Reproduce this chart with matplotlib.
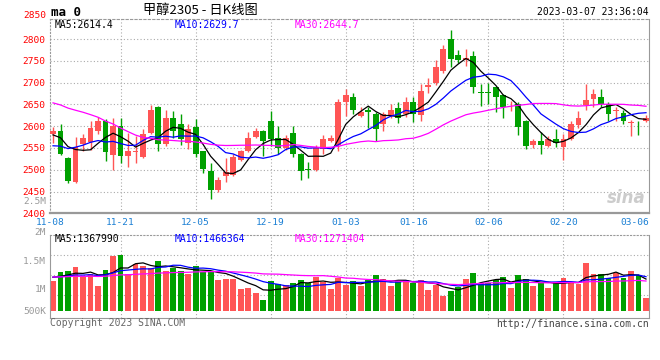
import numpy as np
import pandas as pd
import matplotlib
matplotlib.use('Agg')
import matplotlib.pyplot as plt
import matplotlib.transforms as mtransforms

W, H = 660, 360
MONO = 'DejaVu Sans Mono'
RED = '#ff5555'
GREEN = '#00a000'
GRID = '#aaaaaa'

# date ticks (index of the trading day)
date_idx = [0, 9, 19, 29, 39, 48, 58, 68, 78]
date_lbl = ['11-08', '11-21', '12-05', '12-19', '01-03', '01-16', '02-06', '02-20', '03-06']

opens = [2582, 2589, 2527, 2471, 2559, 2563, 2589, 2613, 2534, 2600,
         2532, 2541, 2530, 2584, 2645, 2560, 2618, 2606, 2561, 2597,
         2542, 2498, 2454, 2485, 2489, 2523, 2543, 2576, 2590, 2611,
         2572, 2549, 2585, 2537, 2501, 2500, 2547, 2567, 2556, 2656,
         2666, 2624, 2637, 2627, 2606, 2623, 2642, 2627, 2656, 2625,
         2689, 2698, 2727, 2801, 2764, 2751, 2760, 2678, 2678, 2689,
         2672, 2650, 2651, 2612, 2556, 2567, 2555, 2570, 2552, 2571,
         2602, 2649, 2662, 2667, 2652, 2635, 2630, 2608, 2606, 2611]
highs = [2597, 2604, 2529, 2574, 2583, 2612, 2622, 2616, 2618, 2618,
         2585, 2577, 2594, 2648, 2646, 2638, 2634, 2627, 2606, 2617,
         2544, 2516, 2484, 2526, 2535, 2546, 2587, 2595, 2591, 2634,
         2600, 2580, 2600, 2538, 2518, 2556, 2579, 2580, 2662, 2685,
         2676, 2643, 2643, 2632, 2632, 2651, 2656, 2666, 2666, 2696,
         2711, 2751, 2786, 2820, 2774, 2777, 2772, 2696, 2698, 2691,
         2674, 2658, 2656, 2614, 2571, 2586, 2577, 2594, 2581, 2612,
         2634, 2696, 2686, 2686, 2655, 2643, 2636, 2614, 2613, 2626]
lows = [2562, 2533, 2469, 2470, 2542, 2545, 2581, 2521, 2500, 2516,
        2506, 2516, 2528, 2583, 2542, 2555, 2572, 2556, 2547, 2530,
        2493, 2432, 2449, 2472, 2486, 2519, 2540, 2572, 2532, 2554,
        2537, 2545, 2529, 2477, 2482, 2497, 2535, 2563, 2544, 2624,
        2628, 2620, 2596, 2567, 2588, 2618, 2607, 2622, 2609, 2612,
        2676, 2694, 2722, 2736, 2745, 2738, 2675, 2647, 2651, 2632,
        2619, 2634, 2580, 2548, 2551, 2537, 2552, 2552, 2522, 2568,
        2596, 2637, 2645, 2645, 2613, 2613, 2605, 2577, 2580, 2609]
closes = [2589, 2537, 2473, 2552, 2572, 2595, 2611, 2541, 2600, 2532,
          2544, 2543, 2583, 2638, 2560, 2618, 2588, 2571, 2594, 2535,
          2502, 2453, 2477, 2495, 2530, 2543, 2572, 2590, 2566, 2570,
          2549, 2572, 2535, 2498, 2500, 2551, 2570, 2572, 2656, 2672,
          2637, 2633, 2632, 2594, 2627, 2636, 2619, 2656, 2627, 2680,
          2694, 2736, 2777, 2755, 2752, 2757, 2690, 2677, 2676, 2667,
          2645, 2651, 2599, 2554, 2567, 2556, 2571, 2561, 2571, 2605,
          2619, 2660, 2674, 2651, 2627, 2636, 2611, 2609, 2604, 2618]
# volume, thousand lots
vols = [1300, 1680, 1730, 1900, 1440, 1580, 1080, 1770, 2370, 2410,
        1580, 2000, 1940, 1830, 2140, 1730, 1830, 1730, 1580, 1940,
        1660, 1730, 1340, 1370, 1360, 940, 990, 770, 470, 1280,
        1160, 1110, 1210, 1330, 1210, 1440, 1230, 940, 1400, 1110,
        1280, 1080, 1330, 1540, 1360, 1070, 1280, 1330, 1190, 1330,
        900, 1110, 640, 860, 1010, 1370, 1630, 1200, 1210, 1330,
        1460, 1000, 1540, 1370, 1080, 1190, 1000, 1260, 1410, 1260,
        1160, 2070, 1600, 1600, 1430, 1630, 1410, 1710, 1530, 560]

# earlier sessions (off chart), only feed the moving averages
prior_close = [2680, 2690, 2700, 2710, 2760, 2790, 2805, 2800, 2810, 2795,
               2780, 2740, 2700, 2660, 2640, 2620, 2610, 2600, 2590, 2575,
               2545, 2530, 2520, 2525, 2530, 2570, 2575, 2585, 2581]
prior_vol = [1520, 1380, 1470, 1550, 1410, 1360, 1500, 1440, 1580, 1390,
             1460, 1420, 1510, 1370, 1490, 1450, 1530, 1400, 1480, 1430,
             1550, 1380, 1460, 1500, 1410, 1470, 1440, 1520, 1490]

price_ma_txt = ['MA5:2614.4', 'MA10:2629.7', 'MA30:2644.7']
vol_ma_txt = ['MA5:1367990', 'MA10:1466364', 'MA30:1271404']
vol_lbl = ['2.5M', '2M', '1.5M', '1M', '500K']
ma_colors = ['black', '#0000ff', '#ff00ff']

o = np.array(opens); h = np.array(highs); l = np.array(lows); c = np.array(closes)
v = np.array(vols) * 1000
n = len(c)
x = np.arange(n)
col = np.where(c >= o, RED, GREEN)

cs = pd.Series(prior_close + closes, dtype=float)
vs = pd.Series(prior_vol + vols, dtype=float) * 1000
np_ = len(prior_close)


def box(left, top, right, bottom):
    return [left / W, 1 - bottom / H, (right - left) / W, (bottom - top) / H]


def ftext(xp, yp, s, **kw):
    kw.setdefault('family', MONO)
    kw.setdefault('fontsize', 7)
    kw.setdefault('va', 'center')
    fig.text(xp / W, 1 - yp / H, s, **kw)


fig = plt.figure(figsize=(6.6, 3.6), dpi=100)

# ---- price panel
ax = fig.add_axes(box(50, 19, 649, 213.3))
ax.set_xlim(-0.4, n - 0.6)
ax.set_ylim(2400, 2846)
for gx in date_idx[1:-1]:
    ax.axvline(gx, color=GRID, lw=0.8, ls=(0, (1, 2)), zorder=0)
for gy in range(2450, 2850, 50):
    ax.axhline(gy, color=GRID, lw=0.8, ls=(0, (1, 2)), zorder=0)

ax.vlines(x, l, h, colors=col, lw=1, zorder=2)
ax.bar(x, np.maximum(np.abs(c - o), 2.0), bottom=np.minimum(o, c), width=0.78,
       color=col, lw=0, zorder=3)
for w, mc in zip([5, 10, 30], ma_colors):
    ma = cs.rolling(w).mean().iloc[np_:].values
    ax.plot(x, ma, color=mc, lw=0.9, zorder=4)

ax.set_yticks(range(2400, 2801, 50))
ax.set_yticklabels([str(t) for t in range(2400, 2801, 50)], color='red',
                   family=MONO, fontsize=6.8)
ax.set_xticks([])
ax.tick_params(length=0, pad=3.5)
for s in ax.spines.values():
    s.set_color('#999999')
    s.set_linewidth(0.8)
ax.spines['bottom'].set_linewidth(1.6)
ax.spines['top'].set_linestyle((0, (2, 2)))
ax.spines['left'].set_linestyle((0, (1, 2)))

# ---- volume panel
av = fig.add_axes(box(50, 234.7, 649, 317.7))
av.set_xlim(-0.4, n - 0.6)
av.set_ylim(-0.287e6, 3.268e6)
for gx in date_idx[1:-1]:
    av.axvline(gx, color=GRID, lw=0.8, ls=(0, (1, 2)), zorder=0)
for fy in [0.273, 0.514, 0.755]:
    av.plot([0, 1], [fy, fy], transform=av.transAxes, color=GRID, lw=0.8,
            ls=(0, (1, 2)), zorder=0)
av.bar(x, v, width=0.78, color=col, lw=0, zorder=2)
for w, mc in zip([5, 10, 30], ma_colors):
    ma = vs.rolling(w).mean().iloc[np_:].values
    av.plot(x, ma, color=mc, lw=0.9, zorder=4)
av.set_xticks([])
av.set_yticks([])
for s in av.spines.values():
    s.set_color('#999999')
    s.set_linewidth(0.8)
av.spines['top'].set_linestyle((0, (1, 2)))

# date labels between the panels
trans = mtransforms.blended_transform_factory(ax.transData, fig.transFigure)
for i, (di, dl) in enumerate(zip(date_idx, date_lbl)):
    ha = 'center'
    xi = di
    if i == 0:
        xi = -0.4
    if i == len(date_idx) - 1:
        xi, ha = n - 0.6, 'right'
    ax.text(xi, 1 - 222.8 / H, dl, transform=trans, ha=ha, va='center',
            family=MONO, fontsize=6.8, color='#1a7fd4', clip_on=False)

# header
ftext(46, 15, '2850', color='red', ha='right', fontsize=6.8)
ftext(51, 12, 'ma 0', fontsize=9, fontweight='bold')
ftext(200, 10.5, '甲醇2305 - 日K线图', family=['Noto Sans CJK SC', 'DejaVu Sans'],
      fontsize=9.5, ha='center')
ftext(649, 12, '2023-03-07 23:36:04', ha='right')
for s, xp, mc in zip(price_ma_txt, [55, 175, 295], ma_colors):
    ftext(xp, 24.5, s, color=mc)
for s, xp, mc in zip(vol_ma_txt, [55, 175, 295], ma_colors):
    ftext(xp, 238.7, s, color=mc)

# volume axis labels
for s, yp in zip(vol_lbl, [201.8, 232.6, 261, 290, 311]):
    ftext(46, yp, s, color='#999999', ha='right', fontsize=6.8)

ftext(50, 323.5, 'Copyright 2023 SINA.COM', color='#666666')
ftext(649, 324, 'http://finance.sina.com.cn', color='#444444', ha='right')
ftext(626, 198, 'sina', family='DejaVu Sans', fontsize=12, fontweight='bold',
      fontstyle='italic', color='#cccccc', ha='center')

fig.savefig('out.png', dpi=100)
